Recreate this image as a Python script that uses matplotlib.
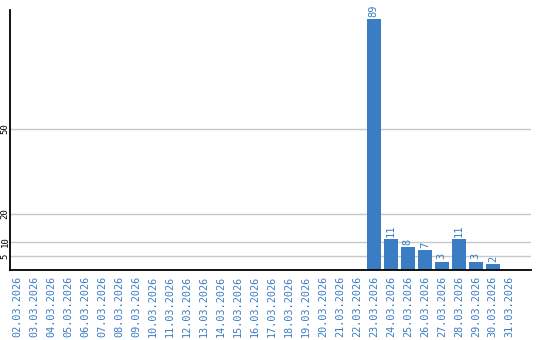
import matplotlib
matplotlib.use("Agg")
import matplotlib.pyplot as plt

# Data
dates = [f"{d:02d}.03.2026" for d in range(2, 32)]
counts = [0] * 21 + [89, 11, 8, 7, 3, 11, 3, 2, 0]
yticks = [5, 10, 20, 50]

bar_color = "#3b7dc4"
label_color = "#3a7cc4"

fig = plt.figure(figsize=(5.4, 3.4), dpi=100)
ax = fig.add_axes([0.0194, 0.206, 0.9636, 0.7646])

x = list(range(len(dates)))
ax.bar(x, counts, width=0.82, color=bar_color, zorder=3)

# Value labels above non-zero bars
for xi, v in zip(x, counts):
    if v > 0:
        ax.annotate(str(v), (xi, v), xytext=(0, 1.5), textcoords="offset points",
                    rotation=90, ha="center", va="bottom",
                    color=label_color, fontsize=7.5, family="DejaVu Sans Mono")

ax.set_xlim(-0.38, 30.24)
ax.set_ylim(0, 92.2)

ax.set_yticks(yticks)
ax.set_yticklabels([str(t) for t in yticks], rotation=90, va="center", ha="center",
                   fontsize=6.5, family="DejaVu Sans Mono")
ax.yaxis.grid(True, color="#c8c8c8", linewidth=1, zorder=0)
ax.set_axisbelow(True)

ax.set_xticks(x)
ax.set_xticklabels(dates, rotation=90, fontsize=7.3, family="DejaVu Sans Mono",
                   color=label_color)
ax.tick_params(axis="both", length=0)
ax.tick_params(axis="x", pad=4)
ax.tick_params(axis="y", pad=4)

for side in ["top", "right"]:
    ax.spines[side].set_visible(False)
for side in ["left", "bottom"]:
    ax.spines[side].set_linewidth(1.3)
    ax.spines[side].set_color("black")
    ax.spines[side].set_zorder(4)

fig.savefig("out.png", dpi=100)
